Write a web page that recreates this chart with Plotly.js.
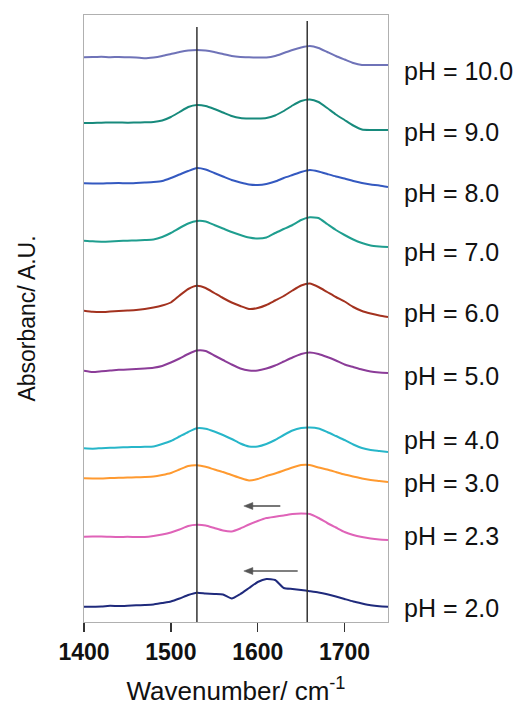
<!DOCTYPE html>
<html>
<head>
<meta charset="utf-8">
<script src="https://cdn.plot.ly/plotly-3.0.1.min.js"></script>
<style>html,body{margin:0;padding:0;background:#fff;}#chart{width:528px;height:706px;}</style>
</head>
<body>
<div id="chart"></div>
<script>
// Wavenumber grid (cm-1)
const wavenumber = [1400,1410,1420,1430,1440,1450,1460,1470,1480,1490,1500,1510,1520,1530,1540,1550,1560,1570,1580,1590,1600,1610,1620,1630,1640,1650,1660,1670,1680,1690,1700,1710,1720,1730,1740,1750];

// Stacked absorbance spectra (arbitrary units, already offset)
const pH100 = [564.7,565,565.3,564.8,565,564.7,564.5,563.7,564.5,566,568,570,571.5,572,571.5,570,568,566,565,564.7,564.5,564.5,566,569,572,574.5,576,574,570,566,562.5,559,557,557,557,557];
const pH90  = [499,499,499.3,499.5,499.5,499.3,499.5,499.7,500,501.5,505,510,515,517,516,513,509.5,506,504,503.5,503.5,504,506.5,511,516.5,521,522.5,520,514,507.5,502,496.5,492.5,492,492,492];
const pH80  = [438.7,438.5,438.5,438.8,439,438.7,439,439.5,440,441,444,447.5,451,454,452.5,449,445.5,442,439.5,437.5,437,438,440.5,444,447,450,452,450.5,448,445.5,443.5,441,439,437.5,436.5,435];
const pH70  = [381.3,380.7,380.3,380.5,381,381.3,381.5,382,382.5,385,389,394,398.5,401,400.5,397,393.5,390,387,384.5,383.5,384.5,389,393,397,402,404.7,404,398,392,387,382.5,379,376.5,375.5,375];
const pH60  = [311.3,310.3,310,310.5,311,311.5,312,313,314.5,316.5,319.5,326.5,333,336.3,334,329,324,319.5,316,313,314,317,321.5,326,331.5,336.5,338.5,335,330,325,320.5,315,311,308.5,306.5,305];
const pH50  = [251.3,250,250.7,251.5,252.2,252.5,253,253.5,254.3,256,259.5,263.5,268,271.5,271,266.5,262,257.5,253.5,251.5,251.5,253.5,256.5,260.5,264.5,268,269.5,268,265,261.5,257.5,255,252.5,250.5,249.5,249];
const pH40  = [173.7,173.3,173.8,174.2,174.5,174.8,175,175.2,175.5,178,181,185.5,190,193.7,193.2,190.5,187,183,178.5,175.5,175.5,178,182,187,191.5,194,194.5,193.5,190,186,182,177.5,174,172,171,170];
const pH30  = [143.7,143.5,143.5,144,144.2,144.5,144.7,145,145.5,147,149,152.5,156,156.7,155.2,152.5,150,147,144,141.5,143,146,148.5,151.5,154.5,157,157,154.5,152.5,150,147.5,145.5,143.5,142,141,140];
const pH23  = [85.3,85.5,85.5,85.2,85,85.2,85,85,86,87.5,89.5,92.5,96,97.2,96.5,94,91.5,90.5,93.5,97.5,101,104,105.3,106.5,108,108.5,108,104,99,94.5,90,87,85,83.5,82.5,82];
const pH20  = [15.3,15.3,15.5,16.2,16,16.3,16.7,17,17.5,19,20.5,23.5,27,29.3,28.5,28,27.5,23.5,28,34,40,43,42,34,33,32,30.8,29.5,27.7,25.5,23,20.5,18.5,16.7,15.7,15.3];

const seriesLabels = ["pH = 10.0","pH = 9.0","pH = 8.0","pH = 7.0","pH = 6.0","pH = 5.0","pH = 4.0","pH = 3.0","pH = 2.3","pH = 2.0"];
const seriesValues = [pH100,pH90,pH80,pH70,pH60,pH50,pH40,pH30,pH23,pH20];
const tickValues = [1400,1500,1600,1700];
const tickLabels = ["1400","1500","1600","1700"];
const markerLines = [1530,1657];
// band-shift arrows: [from, to] wavenumber
const shiftFrom = [1626,1646];
const shiftTo = [1584,1584];

// layout helpers (positions / styles)
const colors = ["#6f73b8","#178a7c","#3459c0","#1f9e8f","#a3321f","#8b3c98","#27b6c9","#ff9a30","#df63b8","#1f2a7c"];
const labelY = [551,490,429,370,309,246,182,139,86,14];
const markerTop = [595,601];
const arrowY = [116,51];

const traces = seriesValues.map((v,i)=>({
  x: wavenumber, y: v, type:'scatter', mode:'lines', name: seriesLabels[i],
  line:{color:colors[i], width:2, shape:'spline', smoothing:0.5}, showlegend:false, hoverinfo:'skip'
}));

const FONT = 'Arial, Liberation Sans, sans-serif';
const annotations = seriesLabels.map((t,i)=>({
  xref:'paper', yref:'y', x:1, y:labelY[i], xanchor:'left', yanchor:'middle',
  xshift:14, text:t, showarrow:false, font:{family:FONT, size:25, color:'#111'}
}));

const shapes = markerLines.map((xv,i)=>({
  type:'line', xref:'x', yref:'y', x0:xv, x1:xv, y0:0, y1:markerTop[i],
  line:{color:'#333', width:1.5}
}));
// arrows drawn as a shaft line plus a filled head (head size in axis units ~ 9px x 7px)
const pxX = 350/304, pxY = 1;
shiftFrom.forEach((xf,i)=>{
  const xt = shiftTo[i], y = arrowY[i];
  shapes.push({type:'line', xref:'x', yref:'y', x0:xf, x1:xt+8*pxX, y0:y, y1:y, line:{color:'#555', width:1.6}});
  shapes.push({type:'path', xref:'x', yref:'y',
    path:`M ${xt} ${y} L ${xt+9*pxX} ${y+3.5*pxY} L ${xt+9*pxX} ${y-3.5*pxY} Z`,
    fillcolor:'#555', line:{color:'#555', width:0.5}});
});

const layout = {
  width:528, height:706,
  margin:{l:84, r:140, t:15, b:84},
  paper_bgcolor:'#fff', plot_bgcolor:'#fff',
  showlegend:false,
  xaxis:{
    range:[1400,1750], tickvals:tickValues, ticktext:tickLabels,
    ticks:'outside', ticklen:9, tickwidth:1.5, tickcolor:'#333',
    showline:true, linecolor:'#b0b0b0', linewidth:1, mirror:true,
    showgrid:false, zeroline:false,
    tickfont:{family:FONT, size:23, color:'#111', weight:'bold'},
    title:{text:'Wavenumber/ cm<sup>-1</sup>', standoff:18, font:{family:FONT, size:26, color:'#111'}},
    automargin:false
  },
  yaxis:{
    range:[0,607], showticklabels:false, ticks:'',
    showline:true, linecolor:'#b0b0b0', linewidth:1, mirror:true,
    showgrid:false, zeroline:false,
    title:{text:'Absorbanc/ A.U.', standoff:40, font:{family:FONT, size:23, color:'#111'}},
    automargin:false
  },
  annotations: annotations,
  shapes: shapes
};

Plotly.newPlot('chart', traces, layout, {displayModeBar:false, staticPlot:true});
</script>
</body>
</html>
